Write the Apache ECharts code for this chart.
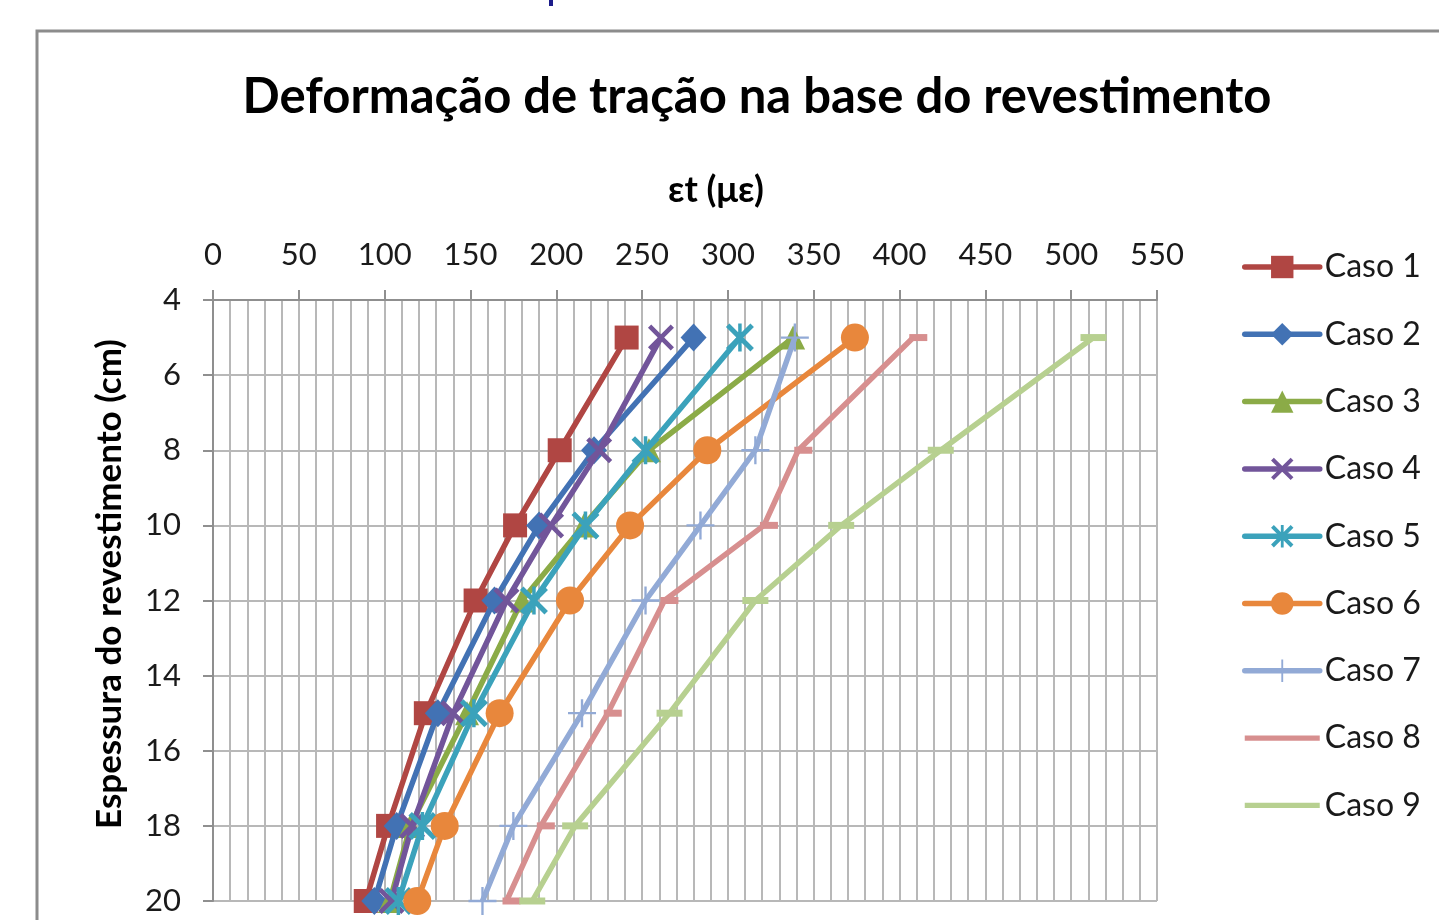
<!DOCTYPE html>
<html>
<head>
<meta charset="utf-8">
<script src="https://cdn.jsdelivr.net/npm/echarts@6/dist/echarts.min.js"></script>
<style>
html,body{margin:0;padding:0;background:#fff;}
#c{width:1439px;height:920px;}
</style>
</head>
<body>
<div id="c"></div>
<script>
const espessura = [5, 8, 10, 12, 15, 18, 20];
const caso1 = [241, 202, 176, 153, 124, 102, 89];
const caso2 = [280, 222, 190, 164, 131, 107, 94];
const caso3 = [338, 254, 216, 180, 148, 115, 103];
const caso4 = [261, 225, 197, 171, 140, 116, 104];
const caso5 = [307, 252, 217, 187, 152, 122, 108];
const caso6 = [374, 288, 243, 208, 167, 135, 119];
const caso7 = [339, 316, 284, 252, 215, 175, 157];
const caso8 = [408, 341, 321, 263, 230, 191, 171];
const caso9 = [513, 424, 366, 316, 266, 211, 186];
const seriesNames = ['Caso 1','Caso 2','Caso 3','Caso 4','Caso 5','Caso 6','Caso 7','Caso 8','Caso 9'];
const seriesValues = [caso1, caso2, caso3, caso4, caso5, caso6, caso7, caso8, caso9];
const colors = ['#B04643','#4272B4','#8BAB47','#72559A','#3BA2BB','#E8873C','#92AAD6','#D78F8F','#B7D090'];

const FONT = 'Lato';
const symX = 'path://M0,3 L3,0 L12,9 L21,0 L24,3 L15,12 L24,21 L21,24 L12,15 L3,24 L0,21 L9,12 Z';
const symAst = 'path://M0,3 L3,0 L12,9 L21,0 L24,3 L15,12 L24,21 L21,24 L12,15 L3,24 L0,21 L9,12 Z M10.5,0 L13.5,0 L13.5,24 L10.5,24 Z';
const symPlus = 'path://M11,0 L13,0 L13,11 L24,11 L24,13 L13,13 L13,24 L11,24 L11,13 L0,13 L0,11 L11,11 Z';
const lineIcon = 'path://M0,0 L100,0 L100,7 L0,7 Z';

const symbols = ['rect','diamond','triangle',symX,symAst,'circle',symPlus,'rect','rect'];
const sizes = [24,[26,28],24,26,28,28,[28,28],[18,7],[26,7]];
const offsets = [[0,0],[0,0],[0,0],[0,0],[0,0],[0,0],[0,0],[5,0],[0,0]];

const series = seriesNames.map((n, i) => ({
  name: n,
  type: 'line',
  data: seriesValues[i].map((v, j) => [v, espessura[j]]),
  symbol: symbols[i],
  symbolSize: sizes[i],
  symbolOffset: offsets[i],
  showAllSymbol: true,
  lineStyle: { color: colors[i], width: 5.5 },
  itemStyle: { color: colors[i], borderWidth: 0 },
  z: 2 + i,
  animation: false
}));

const legendData = seriesNames.map((n, i) => (i >= 7 ? { name: n, icon: lineIcon } : { name: n }));

const chart = echarts.init(document.getElementById('c'));
chart.setOption({
  backgroundColor: '#ffffff',
  animation: false,
  title: {
    text: 'Deformação de tração na base do revestimento',
    left: 752, textAlign: 'center', top: 68,
    textStyle: { fontFamily: FONT, fontWeight: 'bold', fontSize: 49, color: '#000' }
  },
  graphic: [
    { type: 'rect', shape: { x: 37, y: 31, width: 1500, height: 1000 }, style: { fill: 'none', stroke: '#8c8c8c', lineWidth: 3 }, z: -10, silent: true },
    { type: 'rect', shape: { x: 549, y: 0, width: 4, height: 6 }, style: { fill: '#1c1c8a' }, silent: true },
    { type: 'text', left: 668, top: 172, style: { text: 'εt (με)', font: 'bold 36px Lato', fill: '#000' }, silent: true },
    { type: 'text', rotation: Math.PI / 2, x: 92, y: 829, style: { text: 'Espessura do revestimento (cm)', font: 'bold 35px Lato', fill: '#000', textVerticalAlign: 'top' }, silent: true }
  ],
  legend: {
    orient: 'vertical',
    left: 1242, top: 251, padding: 0,
    itemWidth: 75, itemHeight: 28, itemGap: 35.3,
    data: legendData,
    lineStyle: { width: 5.5, cap: 'round' },
    textStyle: { fontFamily: FONT, fontSize: 32, color: '#1a1a1a' }
  },
  grid: { left: 213, top: 300, width: 944, height: 601, containLabel: false },
  xAxis: {
    type: 'value', position: 'top', min: 0, max: 550, interval: 50,
    axisLine: { show: true, lineStyle: { color: '#8f8f8f', width: 2 } },
    axisTick: { show: true, length: 10, lineStyle: { color: '#8f8f8f', width: 2 } },
    axisLabel: { fontFamily: FONT, fontSize: 31, color: '#1a1a1a', margin: 30 },
    splitLine: { show: true, lineStyle: { color: '#b8b8b8', width: 2 } },
    minorTick: { show: false, splitNumber: 5 },
    minorSplitLine: { show: true, lineStyle: { color: '#b8b8b8', width: 2 } }
  },
  yAxis: {
    type: 'value', inverse: true, min: 4, max: 20, interval: 2,
    axisLine: { show: true, lineStyle: { color: '#8f8f8f', width: 2 } },
    axisTick: { show: true, length: 10, lineStyle: { color: '#8f8f8f', width: 2 } },
    axisLabel: { fontFamily: FONT, fontSize: 31, color: '#1a1a1a', margin: 32 },
    splitLine: { show: true, lineStyle: { color: '#b8b8b8', width: 2 } }
  },
  series: series
});
</script>
</body>
</html>
